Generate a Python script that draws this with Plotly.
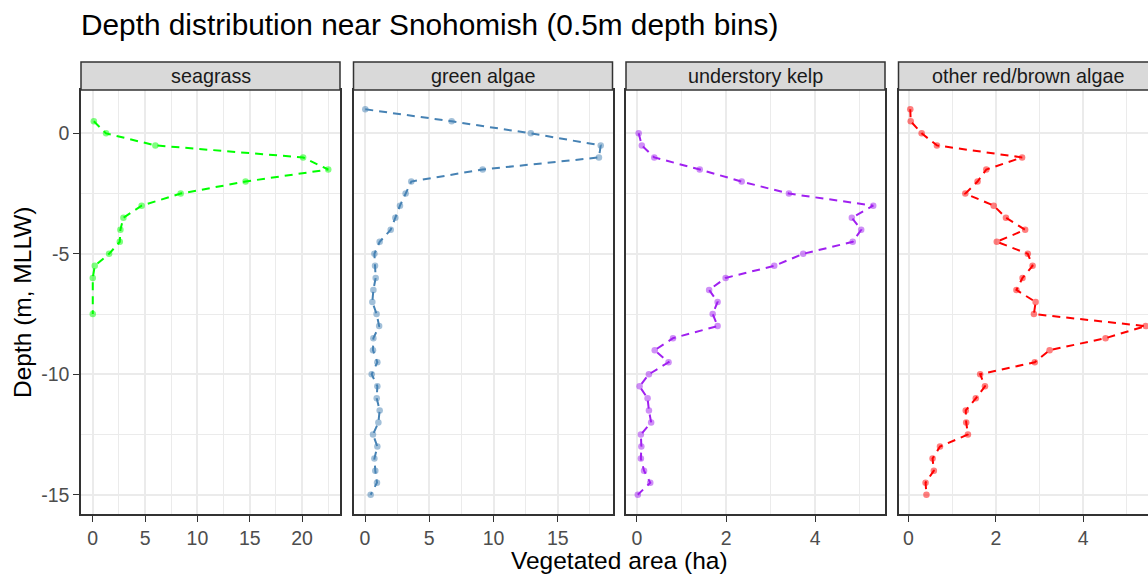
import plotly.graph_objects as go

# ---------------- data ----------------
title_text = "Depth distribution near Snohomish (0.5m depth bins)"
x_title = "Vegetated area (ha)"
y_title = "Depth (m, MLLW)"
panels = ["seagrass", "green algae", "understory kelp", "other red/brown algae"]
colors = ["#00FF00", "#4682B4", "#A020F0", "#FF0000"]

seagrass_depth = [0.5, 0, -0.5, -1, -1.5, -2, -2.5, -3, -3.5, -4, -4.5, -5, -5.5, -6, -7.5]
seagrass_ha = [0.1, 1.27, 5.98, 20.1, 22.5, 14.6, 8.4, 4.67, 2.93, 2.64, 2.58, 1.56, 0.19, 0.0, 0.0]

green_depth = [1, 0.5, 0, -0.5, -1, -1.5, -2, -2.5, -3, -3.5, -4, -4.5, -5, -5.5, -6, -6.5,
               -7, -7.5, -8, -8.5, -9, -9.5, -10, -10.5, -11, -11.5, -12, -12.5, -13, -13.5,
               -14, -14.5, -15]
green_ha = [0.02, 6.74, 12.9, 18.34, 18.2, 9.15, 3.6, 3.16, 2.72, 2.36, 2.0, 1.14, 0.73, 0.78,
            0.83, 0.65, 0.57, 0.9, 1.1, 0.65, 0.62, 0.96, 0.52, 0.96, 0.91, 1.14, 1.04, 0.62,
            0.96, 0.73, 0.8, 0.93, 0.44]

kelp_depth = [0, -0.5, -1, -1.5, -2, -2.5, -3, -3.5, -4, -4.5, -5, -5.5, -6, -6.5, -7, -7.5,
              -8, -8.5, -9, -9.5, -10, -10.5, -11, -11.5, -12, -12.5, -13, -13.5, -14, -14.5, -15]
kelp_ha = [0.04, 0.11, 0.39, 1.41, 2.35, 3.41, 5.30, 4.82, 5.03, 4.84, 3.73, 3.08, 1.99, 1.62,
           1.81, 1.70, 1.81, 0.81, 0.40, 0.71, 0.27, 0.06, 0.24, 0.27, 0.32, 0.09, 0.10, 0.09,
           0.16, 0.30, 0.02]

red_depth = [1, 0.5, 0, -0.5, -1, -1.5, -2, -2.5, -3, -3.5, -4, -4.5, -5, -5.5, -6, -6.5,
             -7, -7.5, -8, -8.5, -9, -9.5, -10, -10.5, -11, -11.5, -12, -12.5, -13, -13.5,
             -14, -14.5, -15]
red_ha = [0.04, 0.05, 0.30, 0.65, 2.60, 1.78, 1.58, 1.30, 1.95, 2.23, 2.67, 2.02, 2.73, 2.84,
          2.61, 2.47, 2.91, 2.87, 5.43, 4.51, 3.23, 2.89, 1.64, 1.75, 1.54, 1.31, 1.32, 1.36,
          0.72, 0.55, 0.58, 0.39, 0.41]

y_tickvals = [-15, -10, -5, 0]
y_ticktext = ["-15", "-10", "-5", "0"]
x_dticks = [5, 5, 2, 2]

series_depth = [seagrass_depth, green_depth, kelp_depth, red_depth]
series_ha = [seagrass_ha, green_ha, kelp_ha, red_ha]

# ---------------- layout geometry ----------------
W, H = 1160, 575
L, R, T, B = 81, 2, 90, 61
panel_w, gap = 259, 13.5
strip_h = 28
plot_w = W - L - R
plot_h = H - T - B

FONT = "Liberation Sans, Arial, Helvetica, sans-serif"
GRID = "#EBEBEB"
DARK = "#333333"


def expand(vals, mult=0.05):
    lo, hi = min(vals), max(vals)
    s = hi - lo
    return [lo - mult * s, hi + mult * s]


all_depth = [d for s in series_depth for d in s]
yrange = expand(all_depth)

fig = go.Figure()
layout_axes = {}
shapes = []
annotations = []

for i, (name, col, dep, ha, dt) in enumerate(zip(panels, colors, series_depth, series_ha, x_dticks)):
    x0px = i * (panel_w + gap)
    d0 = x0px / plot_w
    d1 = min(1.0, (x0px + panel_w) / plot_w)
    xa = "x" if i == 0 else f"x{i+1}"
    ya = "y" if i == 0 else f"y{i+1}"
    xname = "xaxis" if i == 0 else f"xaxis{i+1}"
    yname = "yaxis" if i == 0 else f"yaxis{i+1}"

    fig.add_trace(go.Scatter(
        x=ha, y=dep, mode="markers", xaxis=xa, yaxis=ya,
        marker=dict(color=col, size=6.5, opacity=0.5, line=dict(width=0)),
        showlegend=False, hoverinfo="skip"))
    fig.add_trace(go.Scatter(
        x=ha, y=dep, mode="lines", xaxis=xa, yaxis=ya,
        line=dict(color=col, width=2, dash="8px,6px"),
        showlegend=False, hoverinfo="skip"))

    layout_axes[xname] = dict(
        domain=[d0, d1], range=expand(ha), anchor=ya,
        tickmode="linear", tick0=0, dtick=dt,
        showgrid=True, gridcolor=GRID, gridwidth=2,
        minor=dict(tickmode="linear", tick0=0, dtick=dt / 2, showgrid=True,
                   gridcolor=GRID, gridwidth=1.1, ticklen=0),
        zeroline=False, showline=True, mirror=True, linecolor=DARK, linewidth=1.5,
        ticks="outside", ticklen=6, tickwidth=1.3, tickcolor=DARK,
        tickfont=dict(family=FONT, size=19.5, color="#4D4D4D"),
        fixedrange=True,
    )
    layout_axes[yname] = dict(
        domain=[0, 1], range=yrange, anchor=xa,
        tickmode="array", tickvals=y_tickvals, ticktext=y_ticktext,
        showgrid=True, gridcolor=GRID, gridwidth=2,
        minor=dict(tickmode="linear", tick0=0, dtick=2.5, showgrid=True,
                   gridcolor=GRID, gridwidth=1.1, ticklen=0),
        zeroline=False, showline=True, mirror=True, linecolor=DARK, linewidth=1.5,
        ticks="outside" if i == 0 else "", ticklen=6, tickwidth=1.3, tickcolor=DARK,
        showticklabels=(i == 0),
        tickfont=dict(family=FONT, size=19.5, color="#4D4D4D"),
        fixedrange=True,
    )

    shapes.append(dict(type="rect", xref="paper", yref="paper",
                       x0=d0, x1=d1, y0=1, y1=1 + strip_h / plot_h,
                       fillcolor="#D9D9D9", line=dict(color=DARK, width=1.5), layer="above"))
    annotations.append(dict(text=name, xref="paper", yref="paper",
                            x=(d0 + d1) / 2, y=1 + strip_h / 2 / plot_h,
                            xanchor="center", yanchor="middle", showarrow=False,
                            font=dict(family=FONT, size=19.8, color="#1A1A1A")))

annotations.append(dict(text=x_title, xref="paper", yref="paper",
                        x=0.5, y=-(560 - (H - B)) / plot_h, xanchor="center", yanchor="middle",
                        showarrow=False, font=dict(family=FONT, size=24.5, color="black")))
annotations.append(dict(text=y_title, xref="paper", yref="paper",
                        x=(22 - L) / plot_w, y=0.5, xanchor="center", yanchor="middle",
                        textangle=-90, showarrow=False,
                        font=dict(family=FONT, size=24.5, color="black")))

fig.update_layout(
    width=W, height=H,
    margin=dict(l=L, r=R, t=T, b=B, pad=0),
    paper_bgcolor="white", plot_bgcolor="white",
    title=dict(text=title_text, x=0, xref="paper", xanchor="left",
               y=1 - 25 / H, yref="container", yanchor="middle",
               font=dict(family=FONT, size=29.8, color="black")),
    shapes=shapes, annotations=annotations,
    showlegend=False,
    **layout_axes,
)

fig.write_html(
    "out.html",
    config={"displayModeBar": False},
    post_script="document.documentElement.style.overflow='hidden';document.body.style.overflow='hidden';document.body.style.margin='0';",
)
